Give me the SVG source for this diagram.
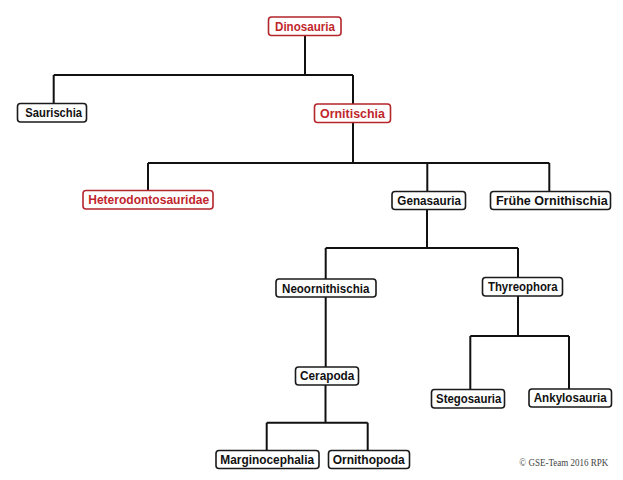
<svg xmlns="http://www.w3.org/2000/svg" width="623" height="480" viewBox="0 0 623 480">
<style>
.box{fill:#fff;stroke:#1a1a1a;stroke-width:1.6}
.red .box{stroke:#b3262b}
.lbl{font-family:"Liberation Sans",Arial,sans-serif;font-weight:bold;font-size:13.6px;fill:#111;text-anchor:middle}
.red .lbl{fill:#c0262c}
.conn{fill:none;stroke:#111;stroke-width:2}
.copy{font-family:"Liberation Serif","Times New Roman",serif;font-size:10.5px;fill:#444}
</style>
<rect width="623" height="480" fill="#fff"/>
<g id="connectors" class="conn">
<path d="M305 35 V75 M53.7 75 H353 M53.7 75 V103.5 M353 75 V104"/>
<path d="M353 122.5 V163 M148 163 H549.3 M148 163 V190.5 M427.3 163 V191.5 M549.3 163 V191.5"/>
<path d="M427 209.5 V248 M325.7 248 H518 M325.7 248 V279 M518 248 V277.5"/>
<path d="M325.7 297 V367 M325.5 385 V422.7 M266.7 422.7 H367.7 M266.7 422.7 V450.5 M367.7 422.7 V450.5"/>
<path d="M518 296 V336 M470.3 336 H569 M470.3 336 V389.5 M569 336 V389"/>
</g>
<g id="dinosauria" class="red"><rect class="box" x="268.5" y="17" width="72.5" height="18.5" rx="3"/><text class="lbl" x="305" y="31" textLength="60" lengthAdjust="spacingAndGlyphs">Dinosauria</text></g>
<g id="saurischia"><rect class="box" x="17.5" y="103.5" width="69" height="18.5" rx="3"/><text class="lbl" x="53.7" y="117.3" textLength="56.7" lengthAdjust="spacingAndGlyphs">Saurischia</text></g>
<g id="ornitischia" class="red"><rect class="box" x="314.5" y="104" width="76" height="18.5" rx="3"/><text class="lbl" x="352.5" y="117.5" textLength="65" lengthAdjust="spacingAndGlyphs">Ornitischia</text></g>
<g id="heterodontosauridae" class="red"><rect class="box" x="83" y="190.5" width="130" height="18.5" rx="3"/><text class="lbl" x="148.7" y="204" textLength="121" lengthAdjust="spacingAndGlyphs">Heterodontosauridae</text></g>
<g id="genasauria"><rect class="box" x="392" y="191.5" width="73.5" height="18" rx="3"/><text class="lbl" x="429.2" y="205" textLength="63.7" lengthAdjust="spacingAndGlyphs">Genasauria</text></g>
<g id="fruehe-ornithischia"><rect class="box" x="490.5" y="191.5" width="120" height="18" rx="3"/><text class="lbl" x="551.8" y="205" textLength="111.7" lengthAdjust="spacingAndGlyphs">Frühe Ornithischia</text></g>
<g id="neoornithischia"><rect class="box" x="276" y="279" width="100" height="18" rx="3"/><text class="lbl" x="325.7" y="293" textLength="87.3" lengthAdjust="spacingAndGlyphs">Neoornithischia</text></g>
<g id="thyreophora"><rect class="box" x="482.5" y="277.5" width="80" height="18.5" rx="3"/><text class="lbl" x="522.8" y="291.2" textLength="69.7" lengthAdjust="spacingAndGlyphs">Thyreophora</text></g>
<g id="cerapoda"><rect class="box" x="295.5" y="367" width="63" height="18" rx="3"/><text class="lbl" x="327.2" y="380.4" textLength="54.3" lengthAdjust="spacingAndGlyphs">Cerapoda</text></g>
<g id="stegosauria"><rect class="box" x="431.5" y="389.5" width="73" height="18.5" rx="3"/><text class="lbl" x="468.7" y="402.7" textLength="65.3" lengthAdjust="spacingAndGlyphs">Stegosauria</text></g>
<g id="ankylosauria"><rect class="box" x="529" y="389" width="82.5" height="18" rx="3"/><text class="lbl" x="570.2" y="401.8" textLength="73" lengthAdjust="spacingAndGlyphs">Ankylosauria</text></g>
<g id="marginocephalia"><rect class="box" x="216" y="450.5" width="103" height="18" rx="3"/><text class="lbl" x="267.2" y="464.2" textLength="93.7" lengthAdjust="spacingAndGlyphs">Marginocephalia</text></g>
<g id="ornithopoda"><rect class="box" x="328.5" y="450.5" width="81" height="18" rx="3"/><text class="lbl" x="368.7" y="464.2" textLength="72" lengthAdjust="spacingAndGlyphs">Ornithopoda</text></g>
<text class="copy" x="519.3" y="466" textLength="89" lengthAdjust="spacingAndGlyphs">© GSE-Team 2016 RPK</text>
</svg>
